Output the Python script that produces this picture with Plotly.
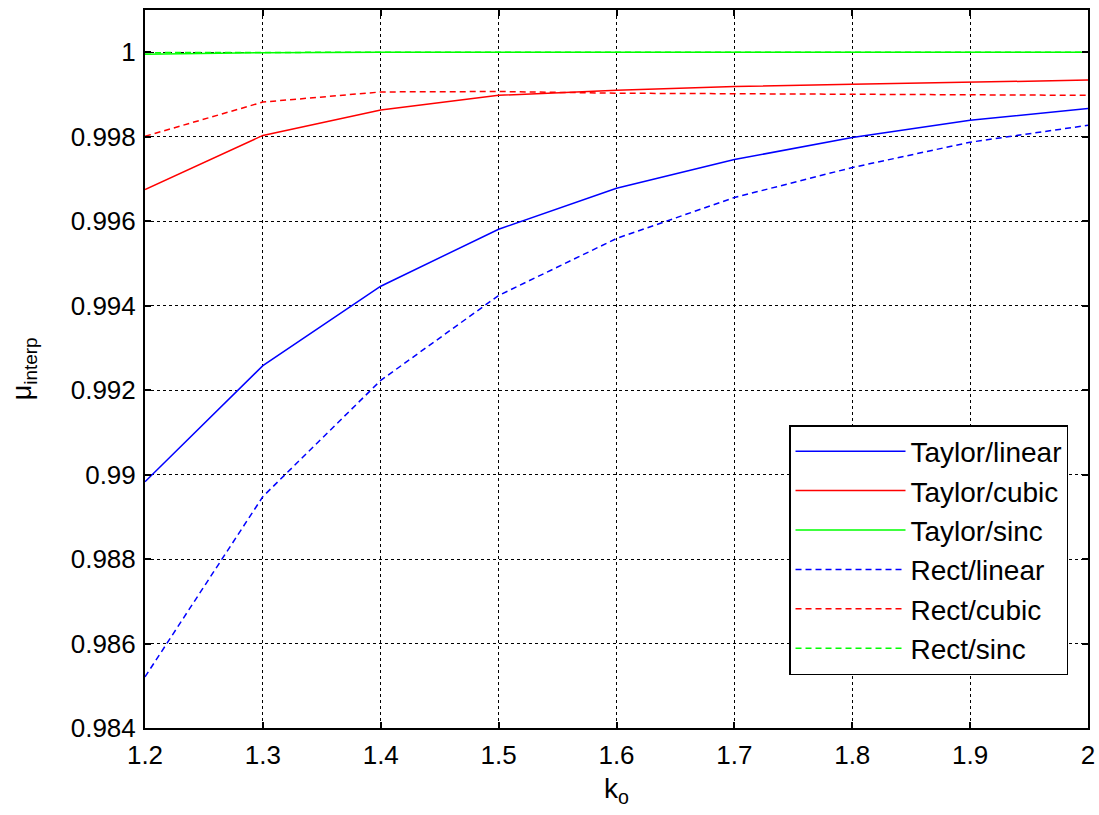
import plotly.graph_objects as go

k_o = [1.2, 1.3, 1.4, 1.5, 1.6, 1.7, 1.8, 1.9, 2.0]
taylor_linear = [0.98983, 0.99258, 0.99446, 0.99581, 0.99678, 0.99746, 0.99798, 0.99839, 0.99867]
taylor_cubic = [0.99675, 0.99803, 0.99863, 0.99898, 0.99910, 0.99919, 0.99924, 0.99929, 0.99934]
taylor_sinc = [0.99995, 0.99999, 1.0, 1.0, 1.0, 1.0, 1.0, 1.0, 1.0]
rect_linear = [0.98521, 0.98948, 0.99223, 0.99424, 0.99559, 0.99656, 0.99727, 0.99787, 0.99827]
rect_cubic = [0.99801, 0.99882, 0.99906, 0.99907, 0.99903, 0.99902, 0.99900, 0.99899, 0.99898]
rect_sinc = [0.99999, 1.0, 1.0, 1.0, 1.0, 1.0, 1.0, 1.0, 1.0]

x_ticks = [1.2, 1.3, 1.4, 1.5, 1.6, 1.7, 1.8, 1.9, 2.0]
x_ticktext = ["1.2", "1.3", "1.4", "1.5", "1.6", "1.7", "1.8", "1.9", "2"]
y_ticks = [0.984, 0.986, 0.988, 0.990, 0.992, 0.994, 0.996, 0.998, 1.000]
y_ticktext = ["0.984", "0.986", "0.988", "0.99", "0.992", "0.994", "0.996", "0.998", "1"]

series = [
    ("Taylor/linear", taylor_linear, "#0000ff", "solid"),
    ("Taylor/cubic", taylor_cubic, "#ff0000", "solid"),
    ("Taylor/sinc", taylor_sinc, "#00ff00", "solid"),
    ("Rect/linear", rect_linear, "#0000ff", "6px,4px"),
    ("Rect/cubic", rect_cubic, "#ff0000", "6px,4px"),
    ("Rect/sinc", rect_sinc, "#00ff00", "6px,4px"),
]

fig = go.Figure()
for name, vals, color, dash in series:
    fig.add_trace(go.Scatter(x=k_o, y=vals, mode="lines", name=name, legendgroup=name,
                             line=dict(color=color, width=1.5, dash=dash)))

font_family = "Liberation Sans, Arial, sans-serif"
axis_common = dict(
    showline=True, linecolor="black", linewidth=2, mirror="ticks",
    ticks="inside", ticklen=6, tickcolor="black", tickwidth=1.5,
    showgrid=True, gridcolor="black", gridwidth=1, griddash="dot",
    zeroline=False, automargin=False,
    tickfont=dict(family=font_family, size=26, color="black"),
)

fig.update_layout(
    width=1099, height=815,
    margin=dict(l=145, r=11, t=10, b=87),
    paper_bgcolor="white", plot_bgcolor="white",
    font=dict(family=font_family, color="black"),
    showlegend=True,
    legend=dict(
        x=0.9788, y=0.422, xanchor="right", yanchor="top",
        bgcolor="white", bordercolor="black", borderwidth=1.5,
        font=dict(family=font_family, size=28, color="black"),
        itemwidth=110, tracegroupgap=0,
    ),
    xaxis=dict(range=[1.2, 2.0], tickvals=x_ticks, ticktext=x_ticktext,
               ticklabelstandoff=3,
               title=dict(text="k<sub>o</sub>", font=dict(size=28), standoff=9),
               **axis_common),
    yaxis=dict(range=[0.984, 1.001], tickvals=y_ticks, ticktext=y_ticktext,
               ticklabelstandoff=2,
               **axis_common),
    annotations=[dict(
        text="μ<sub>interp</sub>", textangle=-90, showarrow=False,
        xref="paper", yref="paper", x=-0.128, y=0.5,
        xanchor="center", yanchor="middle",
        font=dict(family=font_family, size=27, color="black"),
    )],
)

fig.write_html("out.html")
